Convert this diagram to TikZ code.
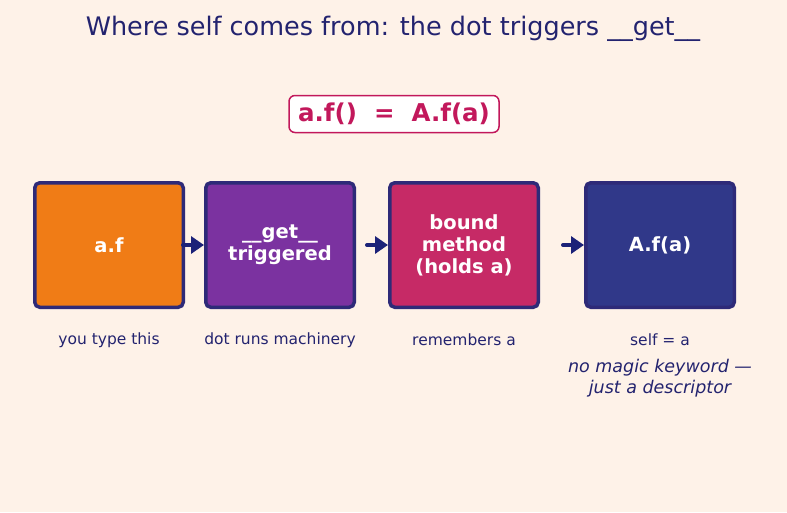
\documentclass[tikz,border=0pt]{standalone}
\usepackage{fontspec}
\setmainfont{DejaVu Sans}
\usetikzlibrary{positioning, arrows.meta}

\definecolor{bgcream}{HTML}{FEF2E8}
\definecolor{inkblue}{HTML}{23236F}
\definecolor{boxedge}{HTML}{2E2A78}
\definecolor{arrowblue}{HTML}{1C2278}
\definecolor{rosered}{HTML}{C2185B}
\definecolor{orangefill}{HTML}{F07C16}
\definecolor{purplefill}{HTML}{7B32A0}
\definecolor{crimsonfill}{HTML}{C62A66}
\definecolor{navyfill}{HTML}{303889}

\begin{document}
\begin{tikzpicture}[x=1pt, y=-1pt,
    stage/.style={draw=boxedge, line width=3.5pt, rounded corners=5pt,
      minimum width=148.5pt, minimum height=124.5pt, inner sep=0pt,
      text=white, align=center, font=\bfseries\fontsize{19.5}{22}\selectfont},
    note/.style={text=inkblue, font=\fontsize{15.5}{18}\selectfont},
    flow/.style={draw=arrowblue, line width=4pt, line cap=round,
      -{Triangle[length=13pt,width=17pt]}}]
    \useasboundingbox[fill=bgcream] (0,0) rectangle (787,512);

    % Heading and the identity
    \node[text=inkblue, font=\fontsize{25.5}{30}\selectfont] (title) at (393,29)
        {Where self comes from: the dot triggers \_\_get\_\_};
    \node[draw=rosered, fill=white, line width=1.5pt, rounded corners=6pt,
        minimum width=210pt, minimum height=37pt, text=rosered,
        font=\bfseries\fontsize{24.5}{28}\selectfont] (formula) at (394,114)
        {a.f()\ \ =\ \ A.f(a)};

    % The four stages
    \node[stage, fill=orangefill] (typed) at (109,245) {a.f};
    \node[stage, fill=purplefill] (getter) at (280,245) {\_\_get\_\_\\triggered};
    \node[stage, fill=crimsonfill] (bound) at (464,245) {bound\\method\\(holds a)};
    \node[stage, fill=navyfill] (call) at (660,245) {A.f(a)};

    % Arrows (fixed length, tip on the next box)
    \coordinate (from1) at ([xshift=-21]getter.west);
    \coordinate (from2) at ([xshift=-21]bound.west);
    \coordinate (from3) at ([xshift=-21]call.west);
    \draw[flow] (from1) -- (getter.west);
    \draw[flow] (from2) -- (bound.west);
    \draw[flow] (from3) -- (call.west);

    % Captions under the boxes
    \node[note] (capA) at (109,340) {you type this};
    \node[note] (capB) at (280,340) {dot runs machinery};
    \node[note] (capC) at (464,340) {remembers a};
    \node[note] (capD) at (660,340) {self = a};
    \node[text=inkblue, align=center, font=\itshape\fontsize{17.5}{21}\selectfont]
        (remark) at (660,378) {no magic keyword —\\just a descriptor};
\end{tikzpicture}
\end{document}
